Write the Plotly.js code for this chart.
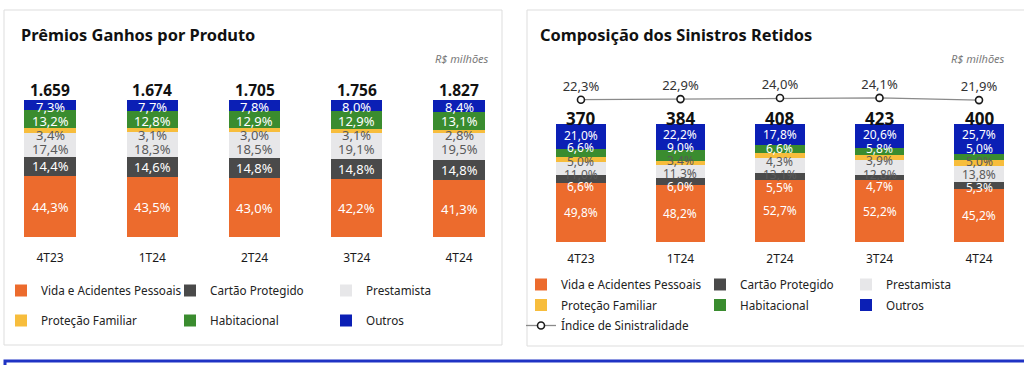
<!DOCTYPE html>
<html><head><meta charset="utf-8">
<script src="https://cdn.plot.ly/plotly-3.0.1.min.js"></script>
<style>html,body{margin:0;padding:0;background:#fff;}#chart{width:1024px;height:365px;}</style>
</head><body><div id="chart"></div>
<script>
// ---------- data ----------
const categories = ['4T23', '1T24', '2T24', '3T24', '4T24'];
const seriesNames = ['Vida e Acidentes Pessoais', 'Cartão Protegido', 'Prestamista', 'Proteção Familiar', 'Habitacional', 'Outros'];

// Prêmios Ganhos por Produto (R$ milhões and % share)
const premiosTotal = [1659, 1674, 1705, 1756, 1827];
const premiosVida = [44.3, 43.5, 43.0, 42.2, 41.3];
const premiosCartao = [14.4, 14.6, 14.8, 14.8, 14.8];
const premiosPrestamista = [17.4, 18.3, 18.5, 19.1, 19.5];
const premiosProtecao = [3.4, 3.1, 3.0, 3.1, 2.8];
const premiosHabitacional = [13.2, 12.8, 12.9, 12.9, 13.1];
const premiosOutros = [7.3, 7.7, 7.8, 8.0, 8.4];

// Composição dos Sinistros Retidos (R$ milhões and % share)
const sinistrosTotal = [370, 384, 408, 423, 400];
const sinistrosVida = [49.8, 48.2, 52.7, 52.2, 45.2];
const sinistrosCartao = [6.6, 6.0, 5.5, 4.7, 5.3];
const sinistrosPrestamista = [11.0, 11.3, 13.1, 12.8, 13.8];
const sinistrosProtecao = [5.0, 3.4, 4.3, 3.9, 5.0];
const sinistrosHabitacional = [6.6, 9.0, 6.6, 5.8, 5.0];
const sinistrosOutros = [21.0, 22.2, 17.8, 20.6, 25.7];
const indiceSinistralidade = [22.3, 22.9, 24.0, 24.1, 21.9];

// ---------- styles ----------
const W = 1024, H = 365;
const px = v => v / W;
const py = v => 1 - v / H;
const FONT = 'Noto Sans, Open Sans, sans-serif';
const colors = ['#ec6b2d', '#4a4a4a', '#e7e7e9', '#f7bd3c', '#3a8c2f', '#0b1fb5'];
const textColors = ['#ffffff', '#ffffff', '#5a5a5a', '#5a5a5a', '#ffffff', '#ffffff'];

// plot-area geometry (pixels)
const L = {top: 60, bottom: 237, barPx: 137};
const R = {top: 60, bottom: 242, barPx: 118};
const leftMax = 100 * (L.bottom - L.top) / L.barPx;
const rightMax = 100 * (R.bottom - R.top) / R.barPx;

const premiosSeries = [premiosVida, premiosCartao, premiosPrestamista, premiosProtecao, premiosHabitacional, premiosOutros];
const sinistrosSeries = [sinistrosVida, sinistrosCartao, sinistrosPrestamista, sinistrosProtecao, sinistrosHabitacional, sinistrosOutros];

// legend columns: series i goes to column i % 3
const leftLegend = ['legend', 'legend2', 'legend3'];
const rightLegend = ['legend4', 'legend5', 'legend6'];

const traces = [];
premiosSeries.forEach((vals, i) => {
  traces.push({
    type: 'bar', name: seriesNames[i], x: categories, y: vals,
    xaxis: 'x', yaxis: 'y', legend: leftLegend[i % 3], legendgroup: 'p' + i,
    marker: {color: colors[i]}, hoverinfo: 'skip'
  });
});
sinistrosSeries.forEach((vals, i) => {
  traces.push({
    type: 'bar', name: seriesNames[i], x: categories, y: vals,
    xaxis: 'x2', yaxis: 'y2', legend: rightLegend[i % 3], legendgroup: 's' + i,
    marker: {color: colors[i]}, hoverinfo: 'skip'
  });
});
traces.push({
  type: 'scatter', mode: 'lines+markers+text', name: 'Índice de Sinistralidade',
  x: categories, y: indiceSinistralidade, xaxis: 'x2', yaxis: 'y3', legend: 'legend4', legendgroup: 'idx',
  line: {color: '#8a8a8a', width: 1.3},
  marker: {symbol: 'circle', size: 7, color: '#ffffff', line: {color: '#1a1a1a', width: 1.6}},
  texttemplate: '%{y:.1f}%', textposition: 'top center',
  textfont: {family: FONT, size: 13, color: '#333333'},
  cliponaxis: false, hoverinfo: 'skip'
});

const sumStack = series => categories.map((c, k) => series.reduce((s, a) => s + a[k], 0));
const premiosTop = sumStack(premiosSeries);
const sinistrosTop = sumStack(sinistrosSeries);
const fmtPct = v => v.toFixed(1).replace('.', ',') + '%';

const annotations = [];

// segment labels, placed at each segment's centre and nudged apart so they stay readable
function segmentLabels(series, xref, yref, pxPerUnit, minGap, topPad, fontSize) {
  categories.forEach((c, k) => {
    let cum = 0;
    const centers = series.map(a => { const m = cum + a[k] / 2; cum += a[k]; return m; });
    const topPx = cum * pxPerUnit;
    const orig = centers.map(m => m * pxPerUnit);
    const pos = orig.slice();
    for (let i = 1; i < pos.length; i++) pos[i] = Math.max(pos[i], pos[i - 1] + minGap);
    const last = pos.length - 1;
    pos[last] = Math.min(pos[last], topPx - topPad);
    for (let i = last - 1; i >= 0; i--) pos[i] = Math.min(pos[i], pos[i + 1] - minGap);
    series.forEach((a, i) => {
      annotations.push({x: c, y: centers[i], xref: xref, yref: yref, text: fmtPct(a[k]),
        showarrow: false, yanchor: 'middle', yshift: pos[i] - orig[i],
        font: {family: FONT, size: fontSize, color: textColors[i]}});
    });
  });
}
segmentLabels(premiosSeries, 'x', 'y', L.barPx / 100, 14, 7, 13);
segmentLabels(sinistrosSeries, 'x2', 'y2', R.barPx / 100, 13, 11, 12);

categories.forEach((c, k) => {
  annotations.push({x: c, y: premiosTop[k], xref: 'x', yref: 'y', text: '<b>' + premiosTotal[k].toString().replace(/\B(?=(\d{3})+(?!\d))/g, '.') + '</b>',
    showarrow: false, yanchor: 'bottom', yshift: -3, font: {family: FONT, size: 15.5, color: '#111111'}});
  annotations.push({x: c, y: sinistrosTop[k], xref: 'x2', yref: 'y2', text: '<b>' + sinistrosTotal[k] + '</b>',
    showarrow: false, yanchor: 'bottom', yshift: -8, font: {family: FONT, size: 17, color: '#111111'}});
});
annotations.push({xref: 'paper', yref: 'paper', x: px(19), y: py(35), xanchor: 'left', yanchor: 'middle',
  text: '<b>Prêmios Ganhos por Produto</b>', showarrow: false, font: {family: FONT, size: 16.4, color: '#111111'}});
annotations.push({xref: 'paper', yref: 'paper', x: px(538), y: py(35), xanchor: 'left', yanchor: 'middle',
  text: '<b>Composição dos Sinistros Retidos</b>', showarrow: false, font: {family: FONT, size: 16.4, color: '#111111'}});
annotations.push({xref: 'paper', yref: 'paper', x: px(491), y: py(58), xanchor: 'right', yanchor: 'middle',
  text: '<i>R$ milhões</i>', showarrow: false, font: {family: FONT, size: 11, color: '#7a7a7a'}});
annotations.push({xref: 'paper', yref: 'paper', x: px(1007), y: py(58), xanchor: 'right', yanchor: 'middle',
  text: '<i>R$ milhões</i>', showarrow: false, font: {family: FONT, size: 11, color: '#7a7a7a'}});

const legendColL = {orientation: 'v', xanchor: 'left', yanchor: 'top', bgcolor: 'rgba(0,0,0,0)',
  traceorder: 'grouped', tracegroupgap: 11, font: {family: FONT, size: 11.7, color: '#222222'}};
const legendColR = {orientation: 'v', xanchor: 'left', yanchor: 'top', bgcolor: 'rgba(0,0,0,0)',
  traceorder: 'grouped', tracegroupgap: 1.5, font: {family: FONT, size: 11.7, color: '#222222'}};

const axisX = {type: 'category', showgrid: false, zeroline: false, showline: false, ticks: '',
  tickfont: {family: FONT, size: 12, color: '#1a1a1a'}, fixedrange: true};

const layout = {
  width: W, height: H, margin: {l: 0, r: 0, t: 0, b: 0},
  paper_bgcolor: '#ffffff', plot_bgcolor: 'rgba(0,0,0,0)',
  font: {family: FONT}, separators: ',.', barmode: 'stack', bargap: 0.5,
  showlegend: true,
  xaxis: Object.assign({}, axisX, {domain: [0, 0.5], range: [-0.489, 4.518], anchor: 'y', ticklabelstandoff: 12}),
  yaxis: {domain: [py(L.bottom), py(L.top)], range: [0, leftMax], visible: false, fixedrange: true, anchor: 'x'},
  xaxis2: Object.assign({}, axisX, {domain: [0.5, 1], range: [-0.693, 4.452], anchor: 'y2', ticklabelstandoff: 8}),
  yaxis2: {domain: [py(R.bottom), py(R.top)], range: [0, rightMax], visible: false, fixedrange: true, anchor: 'x2'},
  yaxis3: {overlaying: 'y2', range: [-120, 62], visible: false, fixedrange: true, anchor: 'x2'},
  legend: Object.assign({}, legendColL, {x: px(1), y: py(276)}),
  legend2: Object.assign({}, legendColL, {x: px(170), y: py(276)}),
  legend3: Object.assign({}, legendColL, {x: px(326), y: py(276)}),
  legend4: Object.assign({}, legendColR, {x: px(521), y: py(270)}),
  legend5: Object.assign({}, legendColR, {x: px(700), y: py(270)}),
  legend6: Object.assign({}, legendColR, {x: px(846), y: py(270)}),
  annotations: annotations,
  shapes: [
    {type: 'rect', xref: 'paper', yref: 'paper', x0: px(4), x1: px(502), y0: py(10), y1: py(345), line: {color: '#dddddd', width: 1}, layer: 'below'},
    {type: 'rect', xref: 'paper', yref: 'paper', x0: px(527), x1: px(1040), y0: py(10), y1: py(346), line: {color: '#dddddd', width: 1}, layer: 'below'},
    {type: 'rect', xref: 'paper', yref: 'paper', x0: px(5), x1: px(1040), y0: py(361), y1: py(380), line: {color: '#1f33c4', width: 3}, layer: 'below'}
  ]
};

Plotly.newPlot('chart', traces, layout, {staticPlot: true, displayModeBar: false});
</script>
</body></html>
